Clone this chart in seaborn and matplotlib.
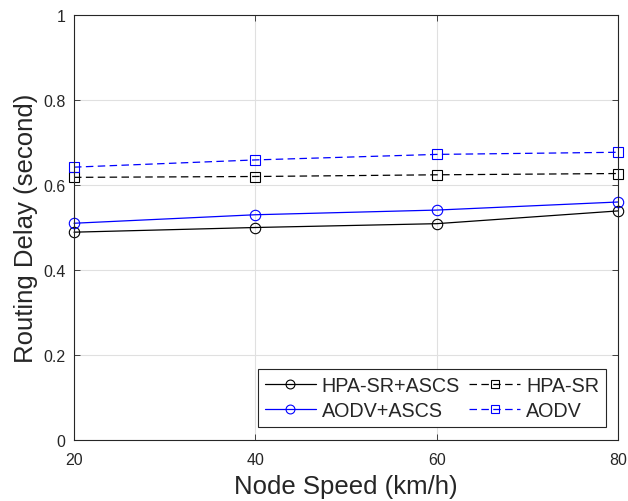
import numpy as np
import pandas as pd
import seaborn as sns
import matplotlib.pyplot as plt

speed = [20, 40, 60, 80]
hpa_sr_ascs = [0.489, 0.500, 0.509, 0.539]
hpa_sr = [0.618, 0.620, 0.624, 0.627]
aodv_ascs = [0.510, 0.530, 0.541, 0.560]
aodv = [0.642, 0.659, 0.672, 0.677]

sns.set_style("whitegrid")
plt.rcParams['font.family'] = ['Liberation Sans', 'DejaVu Sans']

fig = plt.figure(figsize=(6.28, 5.02), dpi=100)
ax = fig.add_axes([74 / 628, 1 - 441 / 502, 544 / 628, 425 / 502])

series = [
    ("HPA-SR+ASCS", hpa_sr_ascs, "black", "-", "o"),
    ("HPA-SR", hpa_sr, "black", "--", "s"),
    ("AODV+ASCS", aodv_ascs, "blue", "-", "o"),
    ("AODV", aodv, "blue", "--", "s"),
]
lines = {}
for name, vals, col, ls, mk in series:
    df = pd.DataFrame({"speed": speed, "delay": vals})
    sns.lineplot(data=df, x="speed", y="delay", ax=ax, color=col,
                 marker=mk, markersize=7.5, markerfacecolor="none",
                 markeredgecolor=col, markeredgewidth=0.8, linewidth=0.9,
                 label=name, clip_on=False)
    ln = ax.lines[-1]
    if ls == "--":
        ln.set_dashes((6, 3.5))
    lines[name] = ln

ax.set_xlim(20, 80)
ax.set_ylim(0, 1)
ax.set_xticks([20, 40, 60, 80])
ax.set_yticks([0, 0.2, 0.4, 0.6, 0.8, 1])
ax.set_yticklabels(["0", "0.2", "0.4", "0.6", "0.8", "1"])
ax.grid(True, color="#e0e0e0", linewidth=0.8)
for s in ax.spines.values():
    s.set_visible(True)
    s.set_color("#262626")
    s.set_linewidth(0.8)
ax.tick_params(direction="in", length=4, width=0.6, colors="#262626",
               labelsize=11.5, top=True, right=True, bottom=True, left=True)
ax.tick_params(axis="x", pad=9)
ax.tick_params(axis="y", pad=6)
ax.set_xlabel("Node Speed (km/h)", fontsize=18.5, color="#262626", labelpad=5)
ax.set_ylabel("Routing Delay (second)", fontsize=18.5, color="#262626", labelpad=4)

order = ["HPA-SR+ASCS", "AODV+ASCS", "HPA-SR", "AODV"]
leg = ax.legend([lines[n] for n in order], order,
                loc="lower right", bbox_to_anchor=(0.978, 0.031),
                ncol=2, fontsize=14.2, handlelength=2.6,
                handletextpad=0.3, columnspacing=0.45, borderaxespad=0,
                fancybox=False, framealpha=1, labelspacing=0.3,
                borderpad=0.35, markerscale=0.85)
leg.get_frame().set_edgecolor("#262626")
leg.get_frame().set_linewidth(0.8)

fig.savefig("out.png", dpi=100)
